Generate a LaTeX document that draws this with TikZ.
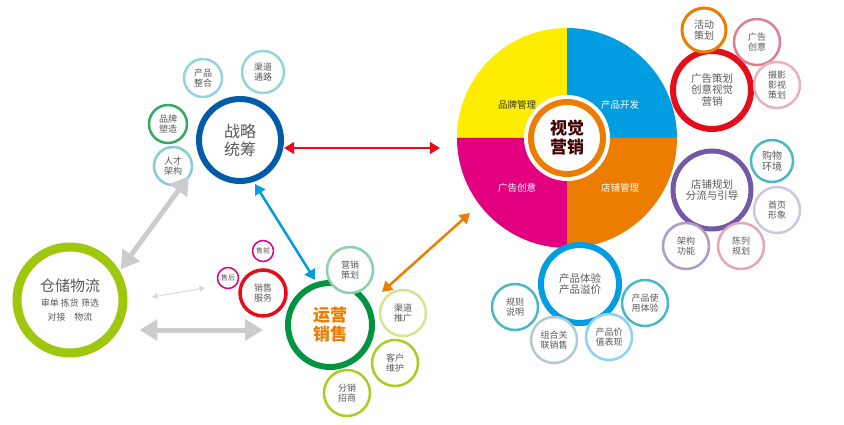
\documentclass[tikz,border=0pt]{standalone}
\usepackage{fontspec}
\setmainfont{Noto Sans CJK SC}
\usetikzlibrary{arrows.meta}
\definecolor{txtgray}{rgb}{0.35,0.35,0.35}
\definecolor{cblue}{rgb}{0.00,0.36,0.66}
\definecolor{cgreen}{rgb}{0.00,0.58,0.25}
\definecolor{clime}{rgb}{0.62,0.78,0.05}
\definecolor{cyellow}{rgb}{1.00,0.93,0.00}
\definecolor{csky}{rgb}{0.00,0.62,0.88}
\definecolor{cmag}{rgb}{0.89,0.00,0.50}
\definecolor{corange}{rgb}{0.93,0.49,0.00}
\definecolor{cred}{rgb}{0.90,0.05,0.10}
\definecolor{cpurple}{rgb}{0.45,0.35,0.65}
\definecolor{cteal}{rgb}{0.30,0.72,0.78}
\definecolor{cpink}{rgb}{0.85,0.50,0.58}
\tikzset{
  ring/.style 2 args={circle,draw=#1,line width=#2,fill=white,inner sep=0pt,
    text=txtgray,align=center,font=\fontsize{9}{10}\selectfont},
  sat/.style={ring={#1}{2.5pt},minimum size=46pt},
  dbl/.style={{Triangle[]}-{Triangle[]},line width=#1}
}
\begin{document}
\begin{tikzpicture}[x=1pt,y=-1pt]
\useasboundingbox (0,0) rectangle (844,425);
% pie
\fill[cyellow] (567,138) -- (457,138) arc[start angle=180,end angle=270,radius=110] -- cycle;
\fill[csky] (567,138) -- (567,28) arc[start angle=270,end angle=360,radius=110] -- cycle;
\fill[cmag] (567,138) -- (457,138) arc[start angle=180,end angle=90,radius=110] -- cycle;
\fill[corange] (567,138) -- (677,138) arc[start angle=0,end angle=90,radius=110] -- cycle;
\fill[white] (567,138) circle[radius=43];
\node[ring={corange}{6pt},minimum size=72pt,font=\bfseries\fontsize{17}{19}\selectfont,text=black!75!red] (vis) at (567,138) {视觉\\营销};
\node[text=black!80,font=\fontsize{9.5}{10}\selectfont] (pp) at (517,105) {品牌管理};
\node[text=white,font=\fontsize{9.5}{10}\selectfont] (kf) at (620,105) {产品开发};
\node[text=white,font=\fontsize{9.5}{10}\selectfont] (gg) at (517,188) {广告创意};
\node[text=white,font=\fontsize{9.5}{10}\selectfont] (dp) at (620,188) {店铺管理};
% strategy
\node[ring={cblue}{6pt},minimum size=82pt,font=\fontsize{16}{18}\selectfont] (zl) at (240,140) {战略\\统筹};
\node[sat={cteal!60}, minimum size=38pt] (zh) at (203,78) {产品\\整合};
\node[sat={cteal!60}, minimum size=42pt] (qd) at (263,72) {渠道\\通路};
\node[sat={cgreen!80}, minimum size=38pt] (pz) at (168,124) {品牌\\塑造};
\node[sat={cteal!70}, minimum size=38pt] (rc) at (173,166) {人才\\架构};
% warehouse
\node[ring={clime}{9pt},minimum size=106pt,font=\fontsize{15}{17}\selectfont] (cc) at (70,300) {仓储物流\\[-2pt]{\fontsize{9}{10}\selectfont 审单 拣货 筛选}\\[-3pt]{\fontsize{9}{10}\selectfont 对接\quad 物流}};
% sales
\node[ring={cgreen}{6pt},minimum size=84pt,font=\bfseries\fontsize{17}{19}\selectfont,text=corange] (yy) at (330,325) {运营\\销售};
\node[sat={cgreen!45}] (yc) at (350,270) {营销\\策划};
\node[sat={clime!45}] (qt) at (403,313) {渠道\\推广};
\node[sat={clime!90}] (kh) at (395,363) {客户\\维护};
\node[sat={clime!90}] (fx) at (347,393) {分销\\招商};
\node[ring={cred}{3.5pt},minimum size=46pt] (xf) at (263,293) {销售\\服务};
\node[ring={cmag}{1.5pt},minimum size=21pt,font=\fontsize{7}{8}\selectfont] (sq) at (263,251) {售前};
\node[ring={cmag}{1.5pt},minimum size=21pt,font=\fontsize{7}{8}\selectfont] (sh) at (228,278) {售后};
% ads
\node[ring={cred}{6pt},minimum size=78pt,font=\fontsize{10.5}{11.5}\selectfont] (gc) at (712,90) {广告策划\\创意视觉\\营销};
\node[ring={corange}{3pt},minimum size=44pt,font=\fontsize{10}{11}\selectfont] (hd) at (704,30) {活动\\策划};
\node[sat={cpink}] (gy) at (757,42) {广告\\创意};
\node[sat={cpink!60}] (sy) at (777,85) {摄影\\影视\\策划};
% shop
\node[ring={cpurple}{5pt},minimum size=78pt,font=\fontsize{10.5}{11.5}\selectfont] (dg) at (712,190) {店铺规划\\分流与引导};
\node[sat={cteal},minimum size=42pt,font=\fontsize{10}{11}\selectfont] (gw) at (772,161) {购物\\环境};
\node[sat={cpurple!35}] (sy2) at (777,210) {首页\\形象};
\node[sat={cpink!70}] (cl) at (741,246) {陈列\\规划};
\node[sat={cpurple!60}] (jg) at (686,246) {架构\\功能};
% product
\node[ring={csky}{6pt},minimum size=78pt,font=\fontsize{10.5}{11.5}\selectfont] (ty) at (580,284) {产品体验\\产品溢价};
\node[sat={cteal}] (gz) at (515,307) {规则\\说明};
\node[sat={cteal!40!gray!50}] (zg) at (554,340) {组合关\\联销售};
\node[sat={csky!45}] (jz) at (609,337) {产品价\\值表现};
\node[sat={cteal}] (sy3) at (645,303) {产品使\\用体验};
% arrows
\coordinate (rr) at (440,148);
\coordinate (oa) at (470,213);
\coordinate (ob) at (382,292);
\coordinate (wa) at (152,297);
\coordinate (wb) at (205,288);
\draw[dbl=2.5pt,cred] (zl.east |- rr) -- (rr);
\draw[dbl=2.5pt,csky] ([xshift=15pt]zl.south) -- ([xshift=-15pt]yy.north);
\draw[dbl=2.5pt,corange] (oa) -- (ob);
\draw[dbl=5pt,black!20] ([xshift=-20pt,yshift=-5pt]zl.south west) -- ([xshift=10pt,yshift=-10pt]cc.north east);
\draw[dbl=5pt,black!20] ([xshift=12pt]cc.east |- 0,330) -- ([xshift=-22pt]yy.west |- 0,330);
\draw[{Triangle[]}-{Triangle[]},line width=1pt,black!15] (wa) -- (wb);
\end{tikzpicture}
\end{document}
